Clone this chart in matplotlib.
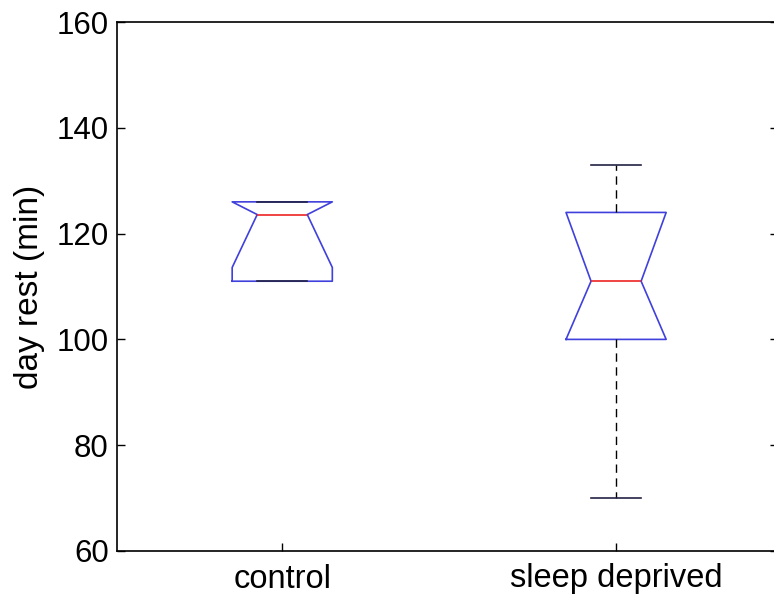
import matplotlib
matplotlib.use('Agg')
import matplotlib.pyplot as plt

plt.rcParams['font.family'] = ['Liberation Sans', 'DejaVu Sans']

# group summaries (minutes of daytime rest)
groups = ['control', 'sleep deprived']
medians = [123.6, 111.0]
q1s = [111.0, 100.0]
q3s = [126.0, 124.0]
lows = [111.0, 70.0]
highs = [126.0, 133.0]
# notch limits, clipped to the box edges
ci_lo = [113.6, 100.0]
ci_hi = [126.0, 124.0]

stats = []
for i in range(len(groups)):
    stats.append({'label': groups[i], 'med': medians[i], 'q1': q1s[i], 'q3': q3s[i],
                  'whislo': lows[i], 'whishi': highs[i],
                  'cilo': ci_lo[i], 'cihi': ci_hi[i], 'fliers': []})

fig = plt.figure(figsize=(7.74, 5.96), dpi=100)
ax = fig.add_axes([117 / 774, 45 / 596, 661 / 774, 529 / 596])

ax.bxp(stats, positions=[1, 2], widths=0.3, shownotches=True, showfliers=False,
       boxprops=dict(color='#4040dd', linewidth=1.2),
       medianprops=dict(color='#ee2222', linewidth=1.2),
       whiskerprops=dict(color='black', linestyle=(0, (6, 4)), linewidth=1.0),
       capprops=dict(color='#222244', linewidth=1.2))

ax.set_xlim(0.505, 2.485)
ax.set_ylim(60, 160)
ax.set_yticks([60, 80, 100, 120, 140, 160])
ax.set_xticks([1, 2])
ax.set_xticklabels(groups)
ax.set_ylabel('day rest (min)', fontsize=24, labelpad=8)

ax.tick_params(axis='both', direction='in', length=6, width=1, right=True)
ax.tick_params(axis='y', labelsize=22.5, pad=6)
ax.tick_params(axis='x', labelsize=23.5, pad=9)
for sp in ax.spines.values():
    sp.set_linewidth(1.2)

fig.savefig('out.png', dpi=100)
